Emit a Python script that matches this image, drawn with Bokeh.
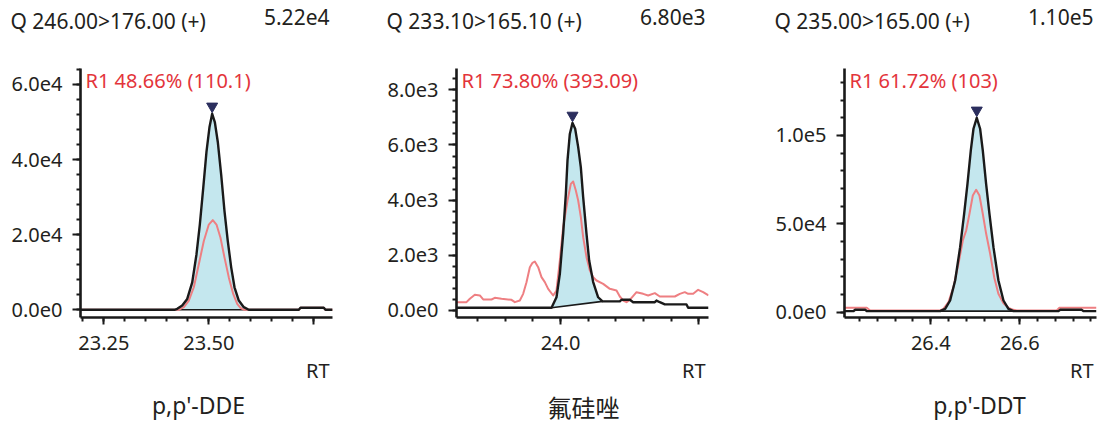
import numpy as np
from bokeh.plotting import figure
from bokeh.models import Range1d, FixedTicker, Label
from bokeh.layouts import row
from bokeh.embed import file_html
from bokeh.resources import INLINE

# ---------------- data: panel 1 (p,p'-DDE) ----------------
dde_title = "Q 246.00>176.00 (+)"
dde_max = "5.22e4"
dde_ratio = "R1 48.66% (110.1)"
dde_name = "p,p'-DDE"
dde_rt = [23.190, 23.418, 23.4248, 23.4367, 23.4486, 23.4605, 23.4707, 23.4786, 23.4867,
          23.4945, 23.5017, 23.5080, 23.5143, 23.5214, 23.5295, 23.5374, 23.5452, 23.5533,
          23.5612, 23.5714, 23.5833, 23.5952, 23.7143, 23.7183, 23.7738, 23.7778, 23.7950]
dde_quant = [0, 0, 260, 1140, 2900, 7300, 14800, 22700, 32400,
             42100, 48700, 52200, 50000, 44700, 35900, 26200, 18300, 11300,
             6000, 2470, 700, 0, 0, 530, 530, 0, 0]
dde_qual_rt = [23.190, 23.428, 23.4405, 23.4524, 23.4643, 23.4762, 23.4881, 23.5000, 23.5095,
               23.5183, 23.5278, 23.5374, 23.5476, 23.5581, 23.5676, 23.5755, 23.5840, 23.7143,
               23.7183, 23.7738, 23.7778, 23.7950]
dde_qual = [0, 0, 700, 2470, 6000, 12150, 18300, 22700, 23870,
            22700, 19200, 13900, 8630, 4230, 1590, 530, 0, 0,
            530, 530, 0, 0]
dde_integ = [23.418, 23.5952]
dde_xticks = [23.25, 23.5, 23.75]
dde_xlabels = ["23.25", "23.50", ""]
dde_yticks = [0, 20000, 40000, 60000]
dde_ylabels = ["0.0e0", "2.0e4", "4.0e4", "6.0e4"]

# ---------------- data: panel 2 (氟硅唑) ----------------
flu_title = "Q 233.10>165.10 (+)"
flu_max = "6.80e3"
flu_ratio = "R1 73.80% (393.09)"
flu_name = "氟硅唑"
flu_rt = [23.6241, 23.9675, 23.9855, 23.9976, 24.0096, 24.0193, 24.0253, 24.0337, 24.0434,
          24.0530, 24.0639, 24.0735, 24.0819, 24.0940, 24.1036, 24.1181, 24.1361, 24.1518,
          24.2144, 24.2205, 24.2506, 24.2626, 24.3409, 24.3469, 24.3590, 24.3770, 24.4554,
          24.4614, 24.5349]
flu_quant = [98, 98, 480, 1330, 2780, 4230, 5440, 6400, 6800,
             6590, 5920, 5190, 4110, 2780, 1810, 1030, 480, 330,
             330, 390, 390, 300, 300, 360, 300, 220, 220,
             100, 100]
flu_qual_rt = [23.6241, 23.6603, 23.6723, 23.6904, 23.7085, 23.7205, 23.7506, 23.7627, 23.7868,
               23.8229, 23.8350, 23.8530, 23.8651, 23.8771, 23.8892, 23.8988, 23.9072, 23.9193,
               23.9313, 23.9434, 23.9554, 23.9735, 23.9855, 23.9976, 24.0096, 24.0253, 24.0373,
               24.0458, 24.0554, 24.0639, 24.0735, 24.0819, 24.0940, 24.1060, 24.1181, 24.1301,
               24.1542, 24.1783, 24.2024, 24.2144, 24.2265, 24.2385, 24.2506, 24.2747, 24.2988,
               24.3168, 24.3409, 24.3590, 24.4132, 24.4313, 24.4493, 24.4614, 24.4795, 24.4975,
               24.5156, 24.5349]
flu_qual = [302, 302, 423, 568, 544, 399, 399, 459, 423,
            387, 302, 362, 604, 1027, 1570, 1728, 1776, 1570,
            1208, 1027, 785, 544, 725, 1812, 3020, 3987, 4591,
            4676, 4349, 3987, 3383, 2658, 1933, 1450, 1208, 1087,
            966, 785, 725, 507, 362, 302, 387, 664, 604,
            544, 628, 507, 507, 604, 664, 604, 604, 749,
            664, 544]
flu_integ = [23.9675, 24.1518]
flu_xticks = [24.0, 24.5]
flu_xlabels = ["24.0", ""]
flu_yticks = [0, 2000, 4000, 6000, 8000]
flu_ylabels = ["0.0e0", "2.0e3", "4.0e3", "6.0e3", "8.0e3"]

# ---------------- data: panel 3 (p,p'-DDT) ----------------
ddt_title = "Q 235.00>165.00 (+)"
ddt_max = "1.10e5"
ddt_ratio = "R1 61.72% (103)"
ddt_name = "p,p'-DDT"
ddt_rt = [26.2038, 26.2260, 26.2301, 26.2526, 26.2567, 26.4211, 26.4323, 26.4435, 26.4548,
          26.4660, 26.4750, 26.4825, 26.4900, 26.4960, 26.5034, 26.5109, 26.5169, 26.5244,
          26.5319, 26.5409, 26.5521, 26.5634, 26.5746, 26.5858, 26.6870, 26.6907, 26.7394,
          26.7431, 26.7724]
ddt_quant = [566, 566, 1325, 1325, 566, 566, 1890, 6605, 17925,
             36795, 55670, 72650, 91520, 103790, 110000, 103790, 91520, 72650,
             55670, 36795, 17925, 6605, 1890, 566, 566, 1325, 1325,
             566, 566]
ddt_qual_rt = [26.2038, 26.2562, 26.2638, 26.4211, 26.4285, 26.4398, 26.4510, 26.4622, 26.4720,
               26.4796, 26.4870, 26.4945, 26.5020, 26.5094, 26.5169, 26.5245, 26.5335, 26.5425,
               26.5520, 26.5634, 26.5746, 26.5858, 26.5933, 26.6830, 26.6892, 26.7724]
ddt_qual = [2457, 2457, 945, 945, 1890, 5660, 14150, 27360, 40570,
            46230, 55670, 66040, 69250, 66040, 55670, 44340, 33020, 19810,
            10380, 5095, 2457, 1325, 945, 945, 2457, 2457]
ddt_integ = [26.4211, 26.5858]
ddt_xticks = [26.2, 26.4, 26.6, 26.8]
ddt_xlabels = ["26.2", "26.4", "26.6", "26.8"]
ddt_yticks = [0, 50000, 100000]
ddt_ylabels = ["0.0e0", "5.0e4", "1.0e5"]

# ---------------- style ----------------
FONT = "Noto Sans"
CJK = "Noto Sans CJK SC"
TXT = "#231f20"
AX = "#1a1a1a"
RED_LINE = "#ee7f82"
RED_TXT = "#e3343b"
FILL = "#c4e7ee"
NAVY = "#2b2e5e"
FH = 249


def panel(rt, q, rt2, q2, integ, xt, xl, xminor, yt, yl, yminor, xr, yr,
          title, mx, ratio, name, name_font, name_size, name_x, L, R, fw):
    p = figure(frame_width=fw, frame_height=FH, min_border_left=L, min_border_right=R,
               min_border_top=68, min_border_bottom=108,
               x_range=Range1d(*xr), y_range=Range1d(*yr),
               output_backend="svg", toolbar_location=None, tools="")
    p.xgrid.visible = False
    p.ygrid.visible = False
    p.outline_line_color = None
    p.background_fill_color = "white"
    p.border_fill_color = "white"

    rt = np.array(rt, dtype=float)
    q = np.array(q, dtype=float)
    i0 = int(np.argmin(np.abs(rt - integ[0])))
    i1 = int(np.argmin(np.abs(rt - integ[1])))
    p.patch(rt[i0:i1 + 1], q[i0:i1 + 1], fill_color=FILL, line_color=None)
    p.line([rt[i0], rt[i1]], [q[i0], q[i1]], line_color=AX, line_width=1.6)
    p.line(rt2, q2, line_color=RED_LINE, line_width=2, line_join="round")
    p.line(rt, q, line_color=AX, line_width=2.4, line_join="round")
    k = int(np.argmax(q))
    dy = 7.5 * (yr[1] - yr[0]) / FH
    p.scatter([rt[k]], [q[k] + dy], marker="inverted_triangle", size=11,
              fill_color=NAVY, line_color=NAVY)

    xminor_ticks = list(np.round(np.arange(xr[0] - xminor, xr[1] + xminor, xminor) / xminor) * xminor)
    yminor_ticks = list(np.round(np.arange(yr[0] - yminor, yr[1] + yminor, yminor) / yminor) * yminor)
    p.xaxis.ticker = FixedTicker(ticks=xt, minor_ticks=xminor_ticks)
    p.yaxis.ticker = FixedTicker(ticks=yt, minor_ticks=yminor_ticks)
    p.xaxis.major_label_overrides = dict(zip(xt, xl))
    p.yaxis.major_label_overrides = dict(zip(yt, yl))
    for ax in (p.xaxis, p.yaxis):
        ax.axis_line_width = 2.6
        ax.axis_line_color = AX
        ax.major_tick_line_width = 2
        ax.minor_tick_line_width = 2
        ax.major_tick_line_color = AX
        ax.minor_tick_line_color = AX
        ax.major_tick_in = 0
        ax.minor_tick_in = 0
        ax.minor_tick_out = 4
        ax.major_label_text_font = FONT
        ax.major_label_text_font_size = "20px"
        ax.major_label_text_color = TXT
    p.xaxis.major_tick_out = 7
    p.yaxis.major_tick_out = 8
    p.xaxis.major_label_standoff = 11
    p.yaxis.major_label_standoff = 10

    def lab(x, y, text, size, color, align, side, font=FONT):
        lbl = Label(x=x, y=y, x_units="screen", y_units="screen", text=text,
                    text_font=font, text_font_size=size, text_color=color,
                    text_align=align, text_baseline="middle")
        if side is None:
            p.add_layout(lbl)
        else:
            p.add_layout(lbl, side)

    # side-panel labels stack outward from the frame; y is measured in each label's own slot
    lab(-70, 48, title, "21px", TXT, "left", "above")
    lab(fw - 3, 24, mx, "21px", TXT, "right", "above")
    lab(5, FH - 11.5, ratio, "20px", RED_TXT, "left", None)
    lab(fw - 3, 9, "RT", "20px", TXT, "right", "below")
    lab(name_x, 5 + (name_size - 21), name, "%dpx" % name_size, TXT, "center", "below", name_font)
    return p


p1 = panel(dde_rt, dde_quant, dde_qual_rt, dde_qual, dde_integ,
           dde_xticks, dde_xlabels, 0.05, dde_yticks, dde_ylabels, 4000,
           (23.1945, 23.7945), (-2050, 64260),
           dde_title, dde_max, dde_ratio, dde_name, FONT, 23, 118, 80, 40, 252)
p2 = panel(flu_rt, flu_quant, flu_qual_rt, flu_qual, flu_integ,
           flu_xticks, flu_xlabels, 0.1, flu_yticks, flu_ylabels, 400,
           (23.6241, 24.5349), (-254, 8772),
           flu_title, flu_max, flu_ratio, flu_name, CJK, 24, 127, 84, 40, 252)
p3 = panel(ddt_rt, ddt_quant, ddt_qual_rt, ddt_qual, ddt_integ,
           ddt_xticks, ddt_xlabels, 0.04, ddt_yticks, ddt_ylabels, 10000,
           (26.2061, 26.7725), (-3020, 137900),
           ddt_title, ddt_max, ddt_ratio, ddt_name, FONT, 23, 135, 96, 2, 252)

layout = row(p1, p2, p3)
open("out.html", "w").write(file_html(layout, INLINE))
